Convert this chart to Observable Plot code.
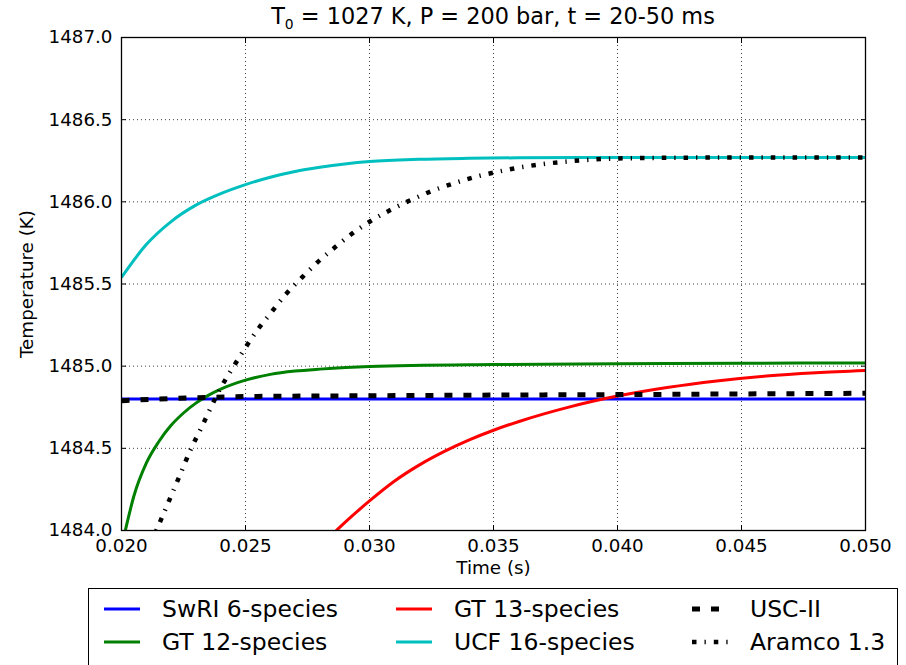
<!DOCTYPE html>
<html>
<head>
<meta charset="utf-8">
<script src="https://cdn.jsdelivr.net/npm/d3@7"></script>
<script src="https://cdn.jsdelivr.net/npm/@observablehq/plot@0.6"></script>
<style>
  body { margin: 0; background: #fff; font-family: "DejaVu Sans", sans-serif; color: #000; }
  #wrap { position: relative; width: 906px; height: 665px; overflow: hidden; }
  #title { position: absolute; left: 121px; width: 744px; top: 3px; text-align: center; font-size: 22.4px; white-space: nowrap; }
  #title sub { font-size: 0.62em; vertical-align: -0.35em; line-height: 0; }
  #chart { position: absolute; left: 0; top: 0; }
  #legend { position: absolute; left: 88px; top: 588px; width: 810px; height: 84px; border: 1.3px solid #000; box-sizing: border-box; }
  .item { position: absolute; display: flex; align-items: center; font-size: 23.5px; white-space: nowrap; height: 30px; }
  .item svg { margin-right: 22px; }
</style>
</head>
<body>
<div id="wrap">
  <div id="chart"></div>
  <div id="title">T<sub>0</sub> = 1027 K, P = 200 bar, t = 20-50 ms</div>
  <div id="legend"></div>
</div>
<script>
// Tick values
const xTicks = [0.020, 0.025, 0.030, 0.035, 0.040, 0.045, 0.050];
const yTicks = [1484.0, 1484.5, 1485.0, 1485.5, 1486.0, 1486.5, 1487.0];

// Mechanism names, in legend order
const mechanisms = ["SwRI 6-species", "GT 12-species", "GT 13-species", "UCF 16-species", "USC-II", "Aramco 1.3"];

// Temperature histories (time in s, temperature in K)
const swriTime = [0.020, 0.030, 0.040, 0.050];
const swriTemp = [1484.80, 1484.80, 1484.80, 1484.80];

const gt12Time = [0.0200, 0.0202, 0.0205, 0.0210, 0.0215, 0.0220, 0.0225, 0.0230, 0.0235, 0.0240, 0.0250, 0.0260, 0.0270, 0.0280, 0.0300, 0.0350, 0.0400, 0.0450, 0.0500];
const gt12Temp = [1483.90, 1484.03, 1484.21, 1484.41, 1484.54, 1484.64, 1484.715, 1484.775, 1484.822, 1484.86, 1484.915, 1484.95, 1484.97, 1484.982, 1484.998, 1485.01, 1485.015, 1485.018, 1485.02];

const gt13Time = [0.0282, 0.0287, 0.0292, 0.0300, 0.0310, 0.0320, 0.0330, 0.0340, 0.0350, 0.0360, 0.0370, 0.0380, 0.0390, 0.0400, 0.0420, 0.0440, 0.0460, 0.0480, 0.0500];
const gt13Temp = [1483.93, 1484.005, 1484.075, 1484.18, 1484.30, 1484.398, 1484.48, 1484.55, 1484.61, 1484.662, 1484.708, 1484.749, 1484.786, 1484.818, 1484.87, 1484.91, 1484.94, 1484.96, 1484.974];

const ucfTime = [0.020, 0.021, 0.022, 0.023, 0.024, 0.025, 0.026, 0.027, 0.028, 0.029, 0.030, 0.032, 0.034, 0.036, 0.040, 0.050];
const ucfTemp = [1485.54, 1485.74, 1485.88, 1485.98, 1486.05, 1486.105, 1486.15, 1486.185, 1486.21, 1486.23, 1486.245, 1486.259, 1486.265, 1486.268, 1486.27, 1486.27];

const uscTime = [0.020, 0.022, 0.025, 0.030, 0.035, 0.040, 0.045, 0.050];
const uscTemp = [1484.79, 1484.803, 1484.815, 1484.82, 1484.824, 1484.827, 1484.831, 1484.835];

const aramcoTime = [0.0212, 0.02169, 0.02206, 0.02242, 0.02278, 0.02319, 0.02359, 0.02399, 0.02448, 0.02496, 0.02548, 0.02605, 0.02661, 0.02726, 0.0279, 0.02863, 0.02931, 0.03012, 0.03093, 0.03177, 0.03258, 0.03347, 0.03435, 0.03524, 0.03617, 0.0371, 0.03802, 0.03895, 0.03984, 0.04077, 0.045, 0.050];
const aramcoTemp = [1483.93, 1484.10, 1484.232, 1484.36, 1484.49, 1484.616, 1484.744, 1484.866, 1484.988, 1485.104, 1485.22, 1485.329, 1485.435, 1485.537, 1485.632, 1485.726, 1485.808, 1485.89, 1485.957, 1486.018, 1486.07, 1486.116, 1486.155, 1486.185, 1486.212, 1486.232, 1486.246, 1486.257, 1486.263, 1486.266, 1486.27, 1486.27];

// Line styles per mechanism
const styles = {
  "SwRI 6-species": {stroke: "#0000ff", width: 3, dash: null},
  "GT 12-species": {stroke: "#008000", width: 3, dash: null},
  "GT 13-species": {stroke: "#ff0000", width: 3, dash: null},
  "UCF 16-species": {stroke: "#00bfbf", width: 3, dash: null},
  "USC-II": {stroke: "#000000", width: 5, dash: "8,11"},
  "Aramco 1.3": {stroke: "#000000", width: 4.5, dash: "4.5,8,1.3,8"}
};

const seriesData = {
  "SwRI 6-species": [swriTime, swriTemp],
  "GT 12-species": [gt12Time, gt12Temp],
  "GT 13-species": [gt13Time, gt13Temp],
  "UCF 16-species": [ucfTime, ucfTemp],
  "USC-II": [uscTime, uscTemp],
  "Aramco 1.3": [aramcoTime, aramcoTemp]
};

const rows = mechanisms.flatMap(name => {
  const [t, T] = seriesData[name];
  return t.map((time, i) => ({mechanism: name, time, temp: T[i]}));
});

const lineMarks = mechanisms.map(name => Plot.line(rows.filter(d => d.mechanism === name), {
  x: "time", y: "temp",
  stroke: styles[name].stroke,
  strokeWidth: styles[name].width,
  strokeDasharray: styles[name].dash,
  strokeLinecap: "butt",
  strokeLinejoin: "round",
  curve: "monotone-x",
  clip: true
}));

const gridStyle = {stroke: "#000", strokeOpacity: 0.75, strokeWidth: 1, strokeDasharray: "1,3"};

const chart = Plot.plot({
  width: 906,
  height: 583,
  marginLeft: 121,
  marginRight: 41,
  marginTop: 37,
  marginBottom: 53,
  style: {fontFamily: "DejaVu Sans, sans-serif", fontSize: "18px", color: "#000", background: "transparent", overflow: "visible"},
  x: {domain: [0.02, 0.05]},
  y: {domain: [1484, 1487]},
  marks: [
    Plot.gridX(xTicks, gridStyle),
    Plot.gridY(yTicks, gridStyle),
    ...lineMarks,
    Plot.frame({stroke: "#000", strokeWidth: 1.3}),
    // inward ticks on all four sides
    Plot.axisX(xTicks, {anchor: "bottom", tickSize: -5, tickFormat: () => "", label: null, strokeWidth: 1}),
    Plot.axisX(xTicks, {anchor: "top", tickSize: -5, tickFormat: () => "", label: null, strokeWidth: 1}),
    Plot.axisY(yTicks, {anchor: "left", tickSize: -5, tickFormat: () => "", label: null, strokeWidth: 1}),
    Plot.axisY(yTicks, {anchor: "right", tickSize: -5, tickFormat: () => "", label: null, strokeWidth: 1}),
    // tick labels and axis titles
    Plot.axisX(xTicks, {anchor: "bottom", tickSize: 0, tickPadding: 8, tickFormat: d3.format(".3f"), fontSize: 18.3,
      label: "Time (s)", labelAnchor: "center", labelArrow: "none", labelOffset: 43}),
    Plot.axisY(yTicks, {anchor: "left", tickSize: 0, tickPadding: 9, tickFormat: d3.format(".1f"), fontSize: 18.3,
      label: "Temperature (K)", labelAnchor: "center", labelArrow: "none", labelOffset: 102})
  ]
});
document.getElementById("chart").appendChild(chart);

// Legend: three columns, two rows, in matplotlib ncol order
const legend = document.getElementById("legend");
const legendCols = [15, 307, 603];
const legendRows = [5, 38];
mechanisms.forEach((name, i) => {
  const col = Math.floor(i / 2), row = i % 2;
  const item = document.createElement("div");
  item.className = "item";
  item.style.left = legendCols[col] + "px";
  item.style.top = legendRows[row] + "px";
  const s = styles[name];
  const sw = d3.create("svg").attr("width", 36).attr("height", 10);
  sw.append("line").attr("x1", 0).attr("x2", 36).attr("y1", 5).attr("y2", 5)
    .attr("stroke", s.stroke).attr("stroke-width", s.width)
    .attr("stroke-dasharray", s.dash).attr("stroke-linecap", "butt");
  item.appendChild(sw.node());
  const label = document.createElement("span");
  label.textContent = name;
  item.appendChild(label);
  legend.appendChild(item);
});
</script>
</body>
</html>
